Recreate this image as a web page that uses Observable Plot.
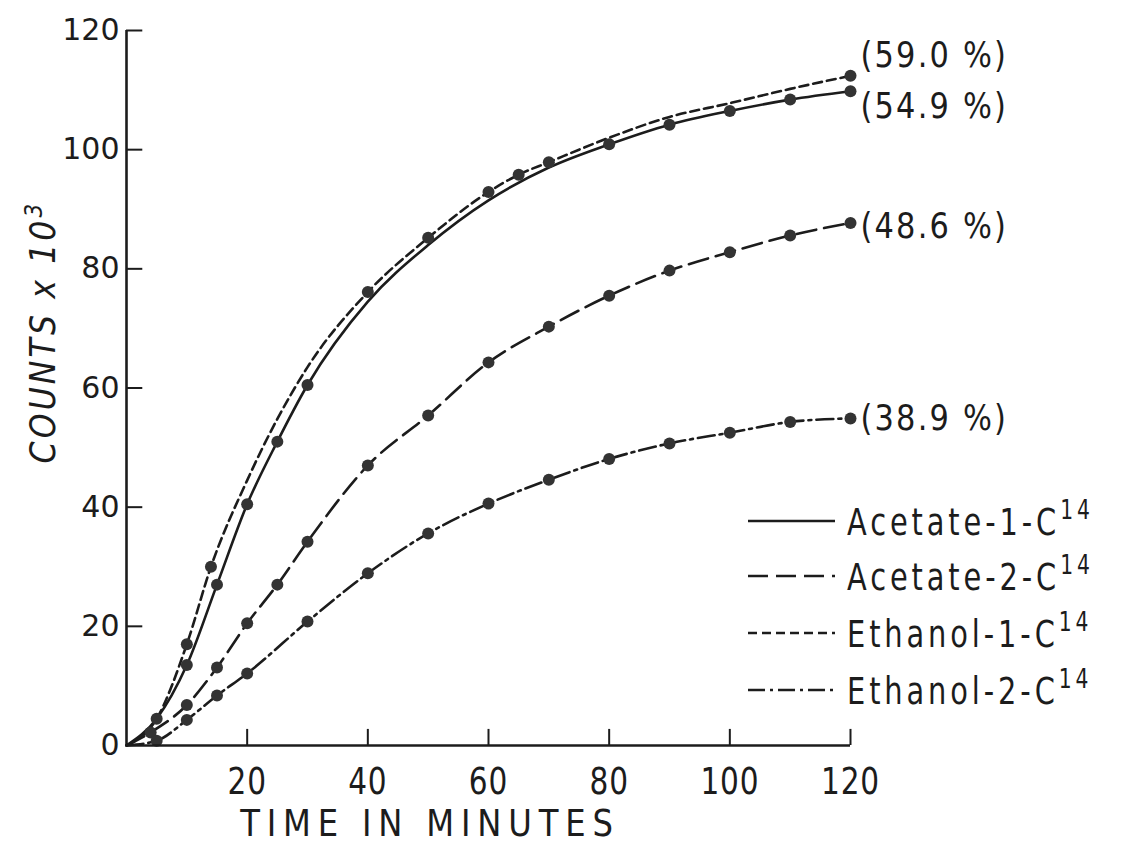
<!DOCTYPE html>
<html><head><meta charset="utf-8">
<script src="https://cdn.jsdelivr.net/npm/d3@7"></script>
<script src="https://cdn.jsdelivr.net/npm/@observablehq/plot@0.6"></script>
<style>
body{margin:0;background:#fff}
#chart svg{display:block}
</style>
</head><body><div id="chart"></div>
<script>
// ---- data ----
const seriesNames = ["Acetate-1-C", "Acetate-2-C", "Ethanol-1-C", "Ethanol-2-C"];
const seriesSup = "14";
const percentLabels = ["(54.9 %)", "(48.6 %)", "(59.0 %)", "(38.9 %)"];

const acet1Time   = [0, 5, 10, 15, 20, 25, 30, 40, 50, 60, 70, 80, 90, 100, 110, 120];
const acet1Counts = [0, 4.5, 13.5, 27, 40.5, 51, 60.5, 74.5, 84, 91.5, 97, 100.9, 104.2, 106.5, 108.4, 109.8];
const acet1Dot    = [0, 1, 1, 1, 1, 1, 1, 0, 0, 0, 0, 1, 1, 1, 1, 1];

const acet2Time   = [0, 4, 10, 15, 20, 25, 30, 40, 50, 60, 70, 80, 90, 100, 110, 120];
const acet2Counts = [0, 2.2, 6.8, 13.1, 20.5, 27, 34.2, 47, 55.4, 64.3, 70.3, 75.5, 79.7, 82.8, 85.6, 87.7];
const acet2Dot    = [0, 1, 1, 1, 1, 1, 1, 1, 1, 1, 1, 1, 1, 1, 1, 1];

const eth1Time    = [0, 5, 10, 14, 20, 30, 40, 50, 60, 65, 70, 80, 90, 100, 110, 120];
const eth1Counts  = [0, 4.5, 17, 30, 44.5, 63.5, 76.1, 85.2, 92.9, 95.8, 97.9, 102, 105.5, 107.8, 110.2, 112.4];
const eth1Dot     = [0, 0, 1, 1, 0, 0, 1, 1, 1, 1, 1, 0, 0, 0, 0, 1];

const eth2Time    = [0, 5, 10, 15, 20, 30, 40, 50, 60, 70, 80, 90, 100, 110, 120];
const eth2Counts  = [0, 0.8, 4.3, 8.4, 12.1, 20.8, 28.9, 35.6, 40.6, 44.6, 48.1, 50.7, 52.5, 54.3, 54.9];
const eth2Dot     = [0, 1, 1, 1, 1, 1, 1, 1, 1, 1, 1, 1, 1, 1, 1];

const xTicks = [20, 40, 60, 80, 100, 120];
const yTicks = [0, 20, 40, 60, 80, 100, 120];

// ---- build rows ----
const raw = [
  [acet1Time, acet1Counts, acet1Dot],
  [acet2Time, acet2Counts, acet2Dot],
  [eth1Time, eth1Counts, eth1Dot],
  [eth2Time, eth2Counts, eth2Dot]
];
const series = raw.map(([t, c, d], i) => t.map((time, j) => ({
  series: seriesNames[i], time, counts: c[j], dot: d[j] === 1, label: percentLabels[i]
})));

// ---- styles ----
const ink = "#1c1c1c";
const dashes = [null, "20,8", "9,5", "17,5,3,5"];
const labelDy = [16, 3.5, -20, 0];
const font = "'DejaVu Sans', sans-serif";

const W = 1122, H = 846;
const mL = 126, mR = 272, mT = 30, mB = 101;

const marks = [];
series.forEach((rows, i) => {
  marks.push(Plot.line(rows, {x: "time", y: "counts", curve: "monotone-x", stroke: ink,
    strokeWidth: 2.6, strokeDasharray: dashes[i] || undefined}));
});
marks.push(Plot.dot(series.flat().filter(d => d.dot), {x: "time", y: "counts", r: 6, fill: "#333", stroke: "none"}));
series.forEach((rows, i) => {
  marks.push(Plot.text([rows[rows.length - 1]], {x: "time", y: "counts", text: "label",
    dx: 10, dy: labelDy[i], textAnchor: "start", fontSize: 35, fontFamily: font, fill: ink,
    className: "pct"}));
});
// axis frame lines
marks.push(Plot.ruleX([0], {y1: 0, y2: 120, stroke: ink, strokeWidth: 2.6}));
marks.push(Plot.ruleY([0], {x1: 0, x2: 120, stroke: ink, strokeWidth: 2.6}));
// inward ticks
marks.push(Plot.ruleX(xTicks, {y1: 0, y2: 2.7, stroke: ink, strokeWidth: 2}));
marks.push(Plot.ruleY(yTicks.filter(v => v > 0), {x1: 0, x2: 2.7, stroke: ink, strokeWidth: 2}));
marks.push(Plot.axisX(xTicks, {tickSize: 0, tickPadding: 22, fontSize: 37, fontFamily: font, label: null, fill: ink, className: "xax"}));
marks.push(Plot.axisY(yTicks, {tickSize: 0, tickPadding: 7, fontSize: 30, fontFamily: font, label: null, fill: ink}));

const plot = Plot.plot({
  width: W, height: H,
  marginLeft: mL, marginRight: mR, marginTop: mT, marginBottom: mB,
  x: {domain: [0, 120]},
  y: {domain: [0, 120]},
  style: {background: "#fff", color: ink, overflow: "visible"},
  marks
});
document.getElementById("chart").append(plot);

const svg = d3.select(plot);

// horizontally condense text (the original lettering is narrow)
function condense(sel, k) {
  sel.each(function() {
    const el = d3.select(this);
    const tr = el.attr("transform");
    if (tr) {
      el.attr("transform", tr + ` scale(${k},1)`);
    } else {
      const x = +el.attr("x") || 0, y = +el.attr("y") || 0;
      el.attr("x", null).attr("y", null)
        .attr("transform", `translate(${x},${y}) scale(${k},1)`);
    }
  });
}
// x tick labels
svg.selectAll(".xax text").attr("letter-spacing", 1);
condense(svg.selectAll(".xax text"), 0.8);
// percentage labels
svg.selectAll(".pct text").attr("letter-spacing", 2.5);
condense(svg.selectAll(".pct text"), 0.87);

// x axis title
const xt = svg.append("text")
  .attr("x", 430).attr("y", 836)
  .attr("text-anchor", "middle")
  .attr("font-family", font).attr("font-size", 38)
  .attr("letter-spacing", 8).attr("fill", ink)
  .text("TIME IN MINUTES");
condense(xt, 0.85);

// y axis title
const yt = svg.append("text")
  .attr("transform", "translate(55,332) rotate(-90) scale(0.9,1)")
  .attr("text-anchor", "middle")
  .attr("font-family", font).attr("font-size", 35).attr("font-style", "italic")
  .attr("letter-spacing", 3.5).attr("fill", ink);
yt.append("tspan").text("COUNTS x 10");
yt.append("tspan").attr("dy", -13).attr("font-size", 24).text("3");

// legend
const legendY = [521, 576, 633, 690];
const lg = svg.append("g");
seriesNames.forEach((name, i) => {
  lg.append("line")
    .attr("x1", 748).attr("x2", 835).attr("y1", legendY[i]).attr("y2", legendY[i])
    .attr("stroke", ink).attr("stroke-width", 2.4)
    .attr("stroke-dasharray", dashes[i] || null);
  const t = lg.append("text")
    .attr("x", 847).attr("y", legendY[i] + 14)
    .attr("text-anchor", "start")
    .attr("font-family", font).attr("font-size", 37)
    .attr("letter-spacing", 5).attr("fill", ink);
  t.append("tspan").text(name);
  t.append("tspan").attr("dy", -16).attr("font-size", 26).text(seriesSup);
  condense(t, 0.78);
});
</script>
</body></html>
